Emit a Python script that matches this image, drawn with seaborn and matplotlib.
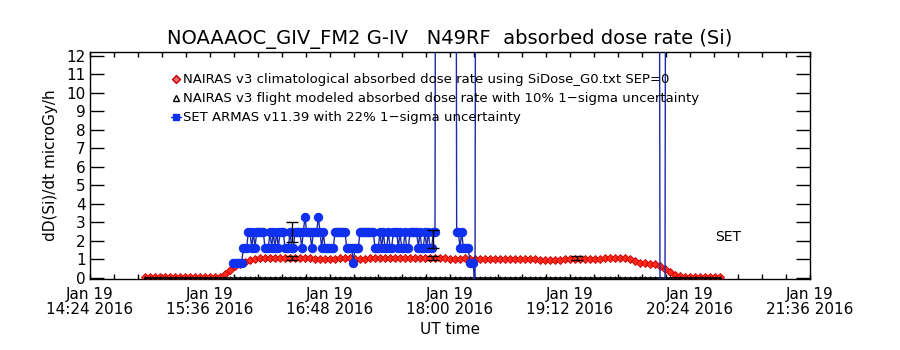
import numpy as np
import pandas as pd
import matplotlib
matplotlib.use("Agg")
import matplotlib.pyplot as plt
import matplotlib.dates as mdates
from matplotlib.lines import Line2D
from matplotlib.ticker import FixedLocator, FuncFormatter
import seaborn as sns

# ---------------- data ----------------
DAY = "2016-01-19 "

# NAIRAS climatological absorbed dose rate, 3-minute samples starting 14:57
red_start = "14:57"
red_values = [0.04] * 16 + [
    0.18, 0.4, 0.6, 0.72, 0.84, 0.95, 1.0, 1.04,
    1.06, 1.07, 1.07, 1.06, 1.08, 1.08, 1.07, 1.06, 1.05, 1.04,
    1.0, 0.99, 0.99, 1.0, 1.0,
    1.04, 1.05, 1.05,
    1.0, 1.0, 1.01, 1.03,
    1.05, 1.06, 1.06, 1.05, 1.05, 1.06, 1.05, 1.05, 1.06, 1.05, 1.05, 1.04, 1.05, 1.04,
    1.03, 1.02, 1.02, 1.02, 1.03, 1.02, 1.02, 1.02, 1.02, 1.01, 1.01, 0.99, 0.98, 0.98,
    0.98, 0.99, 1.0, 1.0, 0.99,
    0.95, 0.94, 0.94, 0.95, 0.96, 0.98,
    1.0, 1.01, 1.01, 1.0, 0.98, 1.0, 1.02,
    1.05, 1.07, 1.08, 1.07, 1.05,
    0.98, 0.88, 0.8, 0.76, 0.75, 0.73,
    0.62, 0.45, 0.3, 0.15, 0.08,
    0.05, 0.04, 0.04, 0.04, 0.04, 0.04, 0.04, 0.04,
]

# NAIRAS flight-modeled absorbed dose rate (same 3-minute grid), sits on zero
flight_values = [0.0] * len(red_values)

# SET ARMAS dose rate, 1-minute samples starting 15:50
blue_start = "15:50"
blue_values = [
    0.8, 0.8, 0.8, 0.8, 0.8, 0.8,
    1.62, 1.62, 1.62,
    2.45, 2.45, 1.62, 2.45, 1.62, 2.45,
    2.45, 2.45, 2.45, 2.45,
    1.62, 1.62, 1.62,
    2.45, 1.62, 2.45, 1.62, 2.45, 1.62, 2.45,
    2.45, 2.45, 1.62,
    1.62, 1.62, 2.45, 1.62, 1.62,
    2.45, 2.45, 2.45, 2.45,
    1.62, 2.45, 3.3, 2.45, 2.45, 2.45, 1.62, 2.45, 2.45, 2.45, 3.3, 2.45, 1.62, 2.45,
    1.62, 1.62, 1.62, 1.62, 1.62, 1.62,
    2.45, 2.45, 2.45, 2.45, 2.45, 2.45, 2.45,
    1.62, 1.62, 1.62, 1.62, 0.8, 1.62, 1.62, 1.62, 2.45, 2.45,
    2.45, 2.45, 2.45, 2.45, 2.45, 2.45, 2.45,
    1.62, 1.62, 1.62,
    2.45, 1.62, 2.45, 1.62, 1.62, 2.45, 1.62, 1.62, 2.45,
    2.45, 2.45,
    1.62, 2.45, 1.62, 1.62, 2.45, 1.62, 1.62, 2.45,
    2.45, 2.45, 2.45, 2.45,
    1.62, 2.45, 1.62, 1.62, 2.45, 1.62, 2.45, 1.62, 1.62, 2.45, 2.45,
    60, 60, 60, 60, 60, 60, 60, 60, 60, 60, 60, 60,
    2.45, 2.45, 1.62, 2.45, 1.62, 1.62, 1.62, 1.62, 0.8, 0.8, 0.8, -1,
]
blue_tail_times = ["18:16", "20:05", "20:06", "20:09", "20:10"]
blue_tail_values = [60, 60, -1, -1, 60]

# error bars (time, centre, half-width)
err_times = ["16:25", "17:50", "19:16", "16:25", "17:50"]
err_centers = [1.05, 1.05, 1.05, 2.45, 2.08]
err_halfwidths = [0.1, 0.1, 0.1, 0.55, 0.48]

x_start, x_end = "14:24", "21:36"
y_ticks = list(range(0, 13))

title = "NOAAAOC_GIV_FM2 G-IV   N49RF  absorbed dose rate (Si)"
legend_labels = [
    "NAIRAS v3 climatological absorbed dose rate using SiDose_G0.txt SEP=0",
    "NAIRAS v3 flight modeled absorbed dose rate with 10% 1\u2212sigma uncertainty",
    "SET ARMAS v11.39 with 22% 1\u2212sigma uncertainty",
]

# ---------------- frames ----------------
red_df = pd.DataFrame({
    "t": pd.date_range(DAY + red_start, periods=len(red_values), freq="3min"),
    "v": red_values,
})
flight_df = pd.DataFrame({"t": red_df["t"], "v": flight_values})
blue_df = pd.concat([
    pd.DataFrame({"t": pd.date_range(DAY + blue_start, periods=len(blue_values), freq="1min"),
                  "v": blue_values}),
    pd.DataFrame({"t": pd.to_datetime([DAY + s for s in blue_tail_times]), "v": blue_tail_values}),
], ignore_index=True)

# ---------------- plot ----------------
sns.set_theme(style="white")
plt.rcParams["font.family"] = ["DejaVu Sans"]
plt.rcParams["text.color"] = "black"
plt.rcParams["axes.labelcolor"] = "black"
plt.rcParams["axes.titlecolor"] = "black"
plt.rcParams["xtick.color"] = "black"
plt.rcParams["ytick.color"] = "black"

fig = plt.figure(figsize=(9, 3.5), dpi=100)
ax = fig.add_axes([0.1, 0.2029, 0.8, 0.648])

RED = "#ff2a1a"
BLUE = "#1030f0"

sns.lineplot(data=red_df, x="t", y="v", ax=ax, estimator=None, sort=False,
             color=RED, linewidth=1.0, marker="D", markersize=4.2,
             markerfacecolor=RED, markeredgecolor="#c80000", markeredgewidth=0.6, zorder=3)
sns.lineplot(data=flight_df, x="t", y="v", ax=ax, estimator=None, sort=False,
             color="black", linewidth=1.2, marker="^", markersize=2.5,
             markerfacecolor="black", markeredgecolor="black", zorder=4)
sns.lineplot(data=blue_df, x="t", y="v", ax=ax, estimator=None, sort=False,
             color="#1a2aa8", linewidth=1.0, marker="o", markersize=6,
             markerfacecolor=BLUE, markeredgecolor=BLUE, zorder=5)

ax.errorbar(pd.to_datetime([DAY + s for s in err_times]), err_centers, yerr=err_halfwidths,
            fmt="none", ecolor="black", elinewidth=1.0, capsize=4, capthick=1.0, zorder=6)

ax.set_xlim(pd.Timestamp(DAY + x_start), pd.Timestamp(DAY + x_end))
ax.set_ylim(-0.08, 12.2)

major = mdates.date2num(pd.date_range(DAY + x_start, DAY + x_end, freq="72min"))
minor = mdates.date2num(pd.date_range(DAY + x_start, DAY + x_end, freq="864s"))
ax.xaxis.set_major_locator(FixedLocator(major))
ax.xaxis.set_minor_locator(FixedLocator(minor))
ax.xaxis.set_major_formatter(FuncFormatter(
    lambda v, p: "Jan 19\n" + mdates.num2date(v).strftime("%H:%M") + " 2016"))
ax.set_yticks(y_ticks)

ax.tick_params(axis="x", which="both", direction="in", top=True, bottom=True,
               length=3.8, width=1, colors="black", labelsize=11, pad=6)
ax.tick_params(axis="y", which="both", direction="in", left=True, right=True,
               length=10, width=1, colors="black", labelsize=11, pad=3)
for lbl in ax.get_xticklabels():
    lbl.set_linespacing(0.95)

for s in ax.spines.values():
    s.set_color("black")
    s.set_linewidth(1.0)

ax.set_xlabel("UT time", fontsize=11, labelpad=4, color="black")
ax.set_ylabel("dD(Si)/dt microGy/h", fontsize=11, labelpad=6, color="black")
ax.set_title(title, fontsize=14, pad=6, color="black")

ax.text(pd.Timestamp(DAY + "20:47"), 2.2, "SET", fontsize=10, ha="center", va="center",
        color="black")

handles = [
    Line2D([], [], linestyle="none", marker="D", markersize=4, markerfacecolor="#e86a6a",
           markeredgecolor="#c80000"),
    Line2D([], [], linestyle="none", marker="^", markersize=5, markerfacecolor="none",
           markeredgecolor="black"),
    Line2D([], [], color=BLUE, linewidth=1, marker="s", markersize=5,
           markerfacecolor=BLUE, markeredgecolor=BLUE),
]
leg = ax.legend(handles, legend_labels, loc="upper left", bbox_to_anchor=(0.105, 0.93),
                frameon=False, fontsize=9.5, handlelength=0.8, handletextpad=0.1,
                labelspacing=0.45, borderaxespad=0)
for t in leg.get_texts():
    t.set_color("black")

fig.savefig("out.png", dpi=100)
